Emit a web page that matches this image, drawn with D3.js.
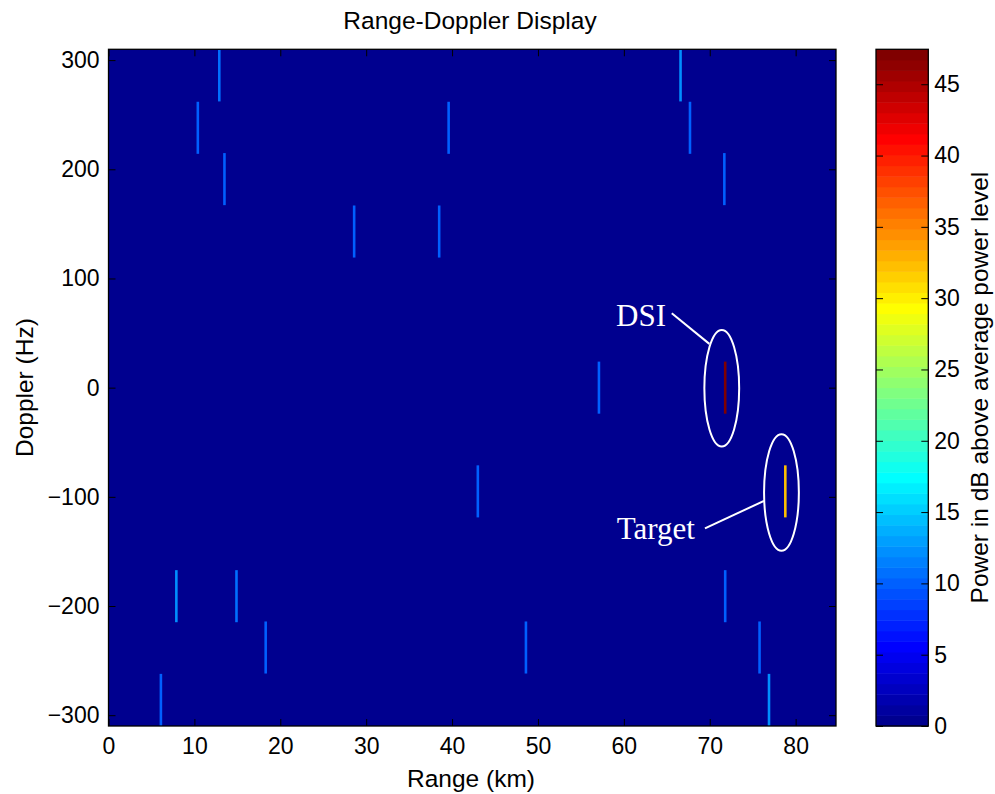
<!DOCTYPE html>
<html>
<head>
<meta charset="utf-8">
<script src="https://cdnjs.cloudflare.com/ajax/libs/d3/7.8.5/d3.min.js"></script>
<style>
body { margin: 0; background: #fff; }
text { font-family: "Liberation Sans", Arial, sans-serif; }
</style>
</head>
<body>
<svg id="chart" width="995" height="794"></svg>
<script>
// cells: range (km), doppler bin centre (Hz), power (dB)
var rangeKm   = [12.9, 66.6, 10.4, 39.6, 67.7, 13.5, 71.7, 28.6, 38.5, 57.1, 71.8, 43.0, 78.8, 7.9, 14.9, 71.8, 18.3, 48.6, 75.8, 6.1, 76.9];
var dopplerHz = [286, 286, 238, 238, 238, 191, 191, 143, 143, 0, 0, -95, -95, -191, -191, -191, -238, -238, -238, -286, -286];
var powerDb   = [11, 12, 10, 10, 10, 10, 10, 10, 10, 10, 47, 10, 32, 12, 11, 10, 10, 10, 10, 10, 12];

var rangeBin = 0.3;      // km
var dopplerBin = 47.68;  // Hz

var xTicks = [0, 10, 20, 30, 40, 50, 60, 70, 80];
var yTicks = [-300, -200, -100, 0, 100, 200, 300];
var cTicks = [0, 5, 10, 15, 20, 25, 30, 35, 40, 45];

// annotations (ellipse centre in km / Hz)
var annoText = ["DSI", "Target"];
var annoRange = [71.4, 78.35];
var annoDoppler = [-0.5, -96];

// matlab jet(64)
function jet(n) {
  var m = Math.ceil(n / 4), u = [], i;
  for (i = 1; i <= m; i++) u.push(i / m);
  for (i = 1; i < m; i++) u.push(1);
  for (i = m; i >= 1; i--) u.push(i / m);
  var g0 = Math.ceil(m / 2) - (n % 4 == 1 ? 1 : 0);
  var map = d3.range(n).map(function() { return [0, 0, 0]; });
  u.forEach(function(v, j) {
    var gi = g0 + j + 1, ri = gi + m, bi = gi - m;
    if (gi <= n) map[gi - 1][1] = v;
    if (ri <= n) map[ri - 1][0] = v;
    if (bi >= 1) map[bi - 1][2] = v;
  });
  return map.map(function(c) {
    return d3.rgb(Math.round(c[0] * 255), Math.round(c[1] * 255), Math.round(c[2] * 255)).toString();
  });
}
var cmap = jet(64);
var cMax = 47.45;
function colour(v) {
  var k = Math.floor(v / cMax * 64);
  return cmap[Math.max(0, Math.min(63, k))];
}

var svg = d3.select("#chart");

var x = d3.scaleLinear().domain([0, 84.7]).range([108.5, 836]);
var y = d3.scaleLinear().domain([-309.9, 309.9]).range([726, 49.3]);
var c = d3.scaleLinear().domain([0, cMax]).range([726, 49.3]);

// background = lowest colour
svg.append("rect")
  .attr("x", x(0)).attr("y", y(309.9))
  .attr("width", x(84.7) - x(0)).attr("height", y(-309.9) - y(309.9))
  .attr("fill", colour(0));

var cells = rangeKm.map(function(r, i) {
  return {r: r, d: dopplerHz[i], p: powerDb[i]};
});

svg.selectAll("rect.cell")
  .data(cells)
  .enter()
  .append("rect")
  .attr("class", "cell")
  .attr("x", function(d) { return x(d.r - rangeBin / 2); })
  .attr("width", function(d) { return x(rangeBin) - x(0); })
  .attr("y", function(d) { return y(d.d + dopplerBin / 2); })
  .attr("height", function(d) { return y(0) - y(dopplerBin); })
  .attr("fill", function(d) { return colour(d.p); });

// annotations
var anno = svg.selectAll("g.anno")
  .data(annoText)
  .enter()
  .append("g")
  .attr("class", "anno")
  .attr("transform", function(d, i) {
    return "translate(" + x(annoRange[i]) + "," + y(annoDoppler[i]) + ")";
  });

anno.append("ellipse")
  .attr("rx", 17.4).attr("ry", 58.3)
  .attr("fill", "none").attr("stroke", "#fff").attr("stroke-width", 2);

anno.append("line")
  .attr("x1", function(d, i) { return i == 0 ? -50 : -76.5; })
  .attr("y1", function(d, i) { return i == 0 ? -75 : 36; })
  .attr("x2", function(d, i) { return i == 0 ? -12.4 : -17.5; })
  .attr("y2", function(d, i) { return i == 0 ? -44.3 : 8.4; })
  .attr("stroke", "#fff").attr("stroke-width", 2);

anno.append("text")
  .attr("x", function(d, i) { return i == 0 ? -105.7 : -164.8; })
  .attr("y", function(d, i) { return i == 0 ? -62.3 : 46.7; })
  .style("font-family", "'Liberation Serif', 'Times New Roman', serif")
  .style("font-size", "31px")
  .attr("fill", "#fff")
  .text(function(d) { return d; });

// axes
function styleAxis(g) {
  g.select(".domain").remove();
  g.selectAll("line").attr("stroke", "#000");
  g.selectAll("text").style("font-size", "23px").attr("fill", "#000");
}

svg.append("g")
  .attr("transform", "translate(0,726)")
  .call(d3.axisBottom(x).tickValues(xTicks).tickSize(-7).tickPadding(12))
  .call(styleAxis);
svg.append("g")
  .attr("transform", "translate(0,49.3)")
  .call(d3.axisTop(x).tickValues(xTicks).tickSize(-7).tickFormat(""))
  .call(styleAxis);
svg.append("g")
  .attr("transform", "translate(108.5,0)")
  .call(d3.axisLeft(y).tickValues(yTicks).tickSize(-7).tickPadding(9))
  .call(styleAxis);
svg.append("g")
  .attr("transform", "translate(836,0)")
  .call(d3.axisRight(y).tickValues(yTicks).tickSize(-7).tickFormat(""))
  .call(styleAxis);

svg.append("rect")
  .attr("x", 108.5).attr("y", 49.3)
  .attr("width", 836 - 108.5).attr("height", 726 - 49.3)
  .attr("fill", "none").attr("stroke", "#000").attr("stroke-width", 1.3);

// colorbar
var cbL = 876, cbR = 928.3;
svg.selectAll("rect.cb")
  .data(cmap)
  .enter()
  .append("rect")
  .attr("class", "cb")
  .attr("x", cbL)
  .attr("width", cbR - cbL)
  .attr("y", function(d, i) { return c((i + 1) / 64 * cMax); })
  .attr("height", function(d, i) { return c(i / 64 * cMax) - c((i + 1) / 64 * cMax) + 0.5; })
  .attr("fill", function(d) { return d; });

svg.append("g")
  .attr("transform", "translate(" + cbR + ",0)")
  .call(d3.axisRight(c).tickValues(cTicks).tickSize(-7).tickPadding(6))
  .call(styleAxis);
svg.append("g")
  .attr("transform", "translate(" + cbL + ",0)")
  .call(d3.axisLeft(c).tickValues(cTicks).tickSize(-7).tickFormat(""))
  .call(styleAxis);

svg.append("rect")
  .attr("x", cbL).attr("y", 49.3)
  .attr("width", cbR - cbL).attr("height", 726 - 49.3)
  .attr("fill", "none").attr("stroke", "#000").attr("stroke-width", 1.3);

// titles
svg.append("text")
  .attr("x", 470).attr("y", 29)
  .attr("text-anchor", "middle")
  .style("font-size", "24.5px")
  .text("Range-Doppler Display");

svg.append("text")
  .attr("x", 471).attr("y", 787)
  .attr("text-anchor", "middle")
  .style("font-size", "24.5px")
  .text("Range (km)");

svg.append("text")
  .attr("transform", "translate(33,387.6) rotate(-90)")
  .attr("text-anchor", "middle")
  .style("font-size", "24.5px")
  .text("Doppler (Hz)");

svg.append("text")
  .attr("transform", "translate(988,387.6) rotate(-90)")
  .attr("text-anchor", "middle")
  .style("font-size", "24.5px")
  .text("Power in dB above average power level");
</script>
</body>
</html>
